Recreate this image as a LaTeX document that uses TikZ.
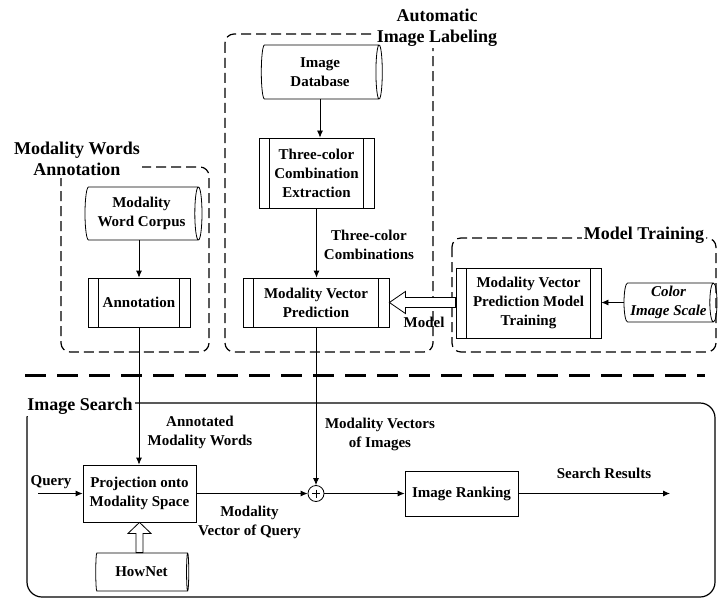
\documentclass[tikz,border=0pt]{standalone}
\usepackage{fontspec}
\setmainfont{Liberation Serif}
\usetikzlibrary{shapes.geometric,arrows.meta,calc}
\begin{document}
\begin{tikzpicture}[x=1pt,y=-1pt,
  every node/.style={font=\fontsize{15}{19}\selectfont\bfseries, align=center, inner sep=0pt},
  db/.style={cylinder, draw, line width=0.8pt, shape border rotate=0, aspect=0.22},
  procbox/.style={draw, rectangle, line width=0.8pt,
    path picture={
      \draw[line width=0.8pt] ([xshift=10.5pt]path picture bounding box.north west) -- ([xshift=10.5pt]path picture bounding box.south west);
      \draw[line width=0.8pt] ([xshift=-10.5pt]path picture bounding box.north east) -- ([xshift=-10.5pt]path picture bounding box.south east);}},
  plainbox/.style={draw, rectangle, line width=0.8pt},
  dbox/.style={draw, line width=1.2pt, dash pattern=on 10pt off 5pt, rounded corners=9pt},
  sepline/.style={line width=3pt, dash pattern=on 21pt off 11pt},
  title/.style={fill=white, inner sep=2pt, font=\fontsize{18}{21}\selectfont\bfseries},
  arr/.style={line width=0.8pt, -{Latex[length=7pt,width=6pt]}},
  hollow/.style={line width=0.8pt, fill=white, line join=miter},
  lbl/.style={}
]
\useasboundingbox (0,0) rectangle (725,599);

% ---------- group frames ----------
\draw[dbox] (225,34) rectangle (433,352);
\draw[dbox] (61,167) rectangle (209,352);
\draw[dbox] (452,238) rectangle (716,352);
\draw[sepline] (25,375) -- (705,375);
\draw[line width=1.2pt, rounded corners=15pt] (27,403) rectangle (715,597);

\node[title] (tAuto) at (437,27.5) {Automatic\\Image Labeling};
\node[title] (tMWA) at (77,159) {Modality Words\\Annotation};
\node[title] (tMT) at (644,235) {Model Training};
\node[title] (tIS) at (80,406) {Image Search};

% ---------- Automatic Image Labeling ----------
\node[db, minimum height=121pt, minimum width=54pt] (imgdb) at (320,72) {Image\\Database};
\node[procbox, minimum width=115pt, minimum height=70pt] (tce) at (316.5,173) {Three-color\\Combination\\Extraction};
\node[procbox, minimum width=146pt, minimum height=49pt] (mvp) at (316,302.5) {Modality Vector\\Prediction};

% ---------- Modality Words Annotation ----------
\node[db, minimum height=117pt, minimum width=53pt] (corpus) at (141.5,213.5) {Modality\\Word Corpus};
\node[procbox, minimum width=102pt, minimum height=49pt] (annot) at (139,302.5) {Annotation};

% ---------- Model Training ----------
\node[procbox, minimum width=145pt, minimum height=70pt] (mvpmt) at (528.5,303) {Modality Vector\\Prediction Model\\Training};
\node[db, minimum height=93pt, minimum width=39pt] (cis) at (668.5,302.5) {\itshape Color\\\itshape Image Scale};

% ---------- Image Search ----------
\node[plainbox, minimum width=113pt, minimum height=57pt] (proj) at (139.5,493.5) {Projection onto\\Modality Space};
\node[db, minimum height=93pt, minimum width=38pt] (hownet) at (141.5,572) {HowNet};
\node[draw, circle, line width=0.8pt, minimum size=16pt] (plus) at (316,493.5) {};
\draw[line width=0.8pt] ($(plus.center)+(-4,0)$) -- ($(plus.center)+(4,0)$);
\draw[line width=0.8pt] ($(plus.center)+(0,-4)$) -- ($(plus.center)+(0,4)$);
\node[plainbox, minimum width=113pt, minimum height=45pt] (rank) at (461.5,493.5) {Image Ranking};
\coordinate (qin) at (38,493.5);
\coordinate (out) at (670,493.5);

% ---------- connectors ----------
\draw[arr] (imgdb.south) -- (imgdb.south |- tce.north);
\draw[arr] (tce.south) -- (tce.south |- mvp.north);
\draw[arr] (corpus.south -| annot.north) -- (annot.north);
\draw[arr] (cis.west) -- (cis.west -| mvpmt.east);
\draw[arr] (annot.south) -- (annot.south |- proj.north);
\draw[arr] (mvp.south) -- (plus.north);
\draw[arr] (qin) -- (qin -| proj.west);
\draw[arr] (proj.east) -- (plus.west);
\draw[arr] (plus.east) -- (rank.west);
\draw[arr] (rank.east) -- (out);

% hollow arrow: model -> prediction
\draw[hollow] (mvp.east) -- ($(mvp.east)+(16,-11)$) -- ($(mvp.east)+(16,-5)$)
  -- ($(mvp.east -| mvpmt.west)+(0,-5)$) -- ($(mvp.east -| mvpmt.west)+(0,5)$)
  -- ($(mvp.east)+(16,5)$) -- ($(mvp.east)+(16,11)$) -- cycle;
% hollow arrow: HowNet -> projection
\draw[hollow] (proj.south) -- ($(proj.south)+(-11.5,11)$) -- ($(proj.south)+(-3.5,11)$)
  -- ($(proj.south |- hownet.north)+(-3.5,0)$) -- ($(proj.south |- hownet.north)+(3.5,0)$)
  -- ($(proj.south)+(3.5,11)$) -- ($(proj.south)+(11.5,11)$) -- cycle;

% ---------- labels ----------
\node[lbl] (l3c) at (369,244.5) {Three-color\\Combinations};
\node[lbl] (lmodel) at (424,322) {Model};
\node[lbl] (lamw) at (200,432) {Annotated\\Modality Words};
\node[lbl] (lmvi) at (380,434) {Modality Vectors\\of Images};
\node[lbl] (lquery) at (51,482) {Query};
\node[lbl] (lmvq) at (249.5,522.5) {Modality\\Vector of Query};
\node[lbl] (lsr) at (604,473) {Search Results};
\end{tikzpicture}
\end{document}
